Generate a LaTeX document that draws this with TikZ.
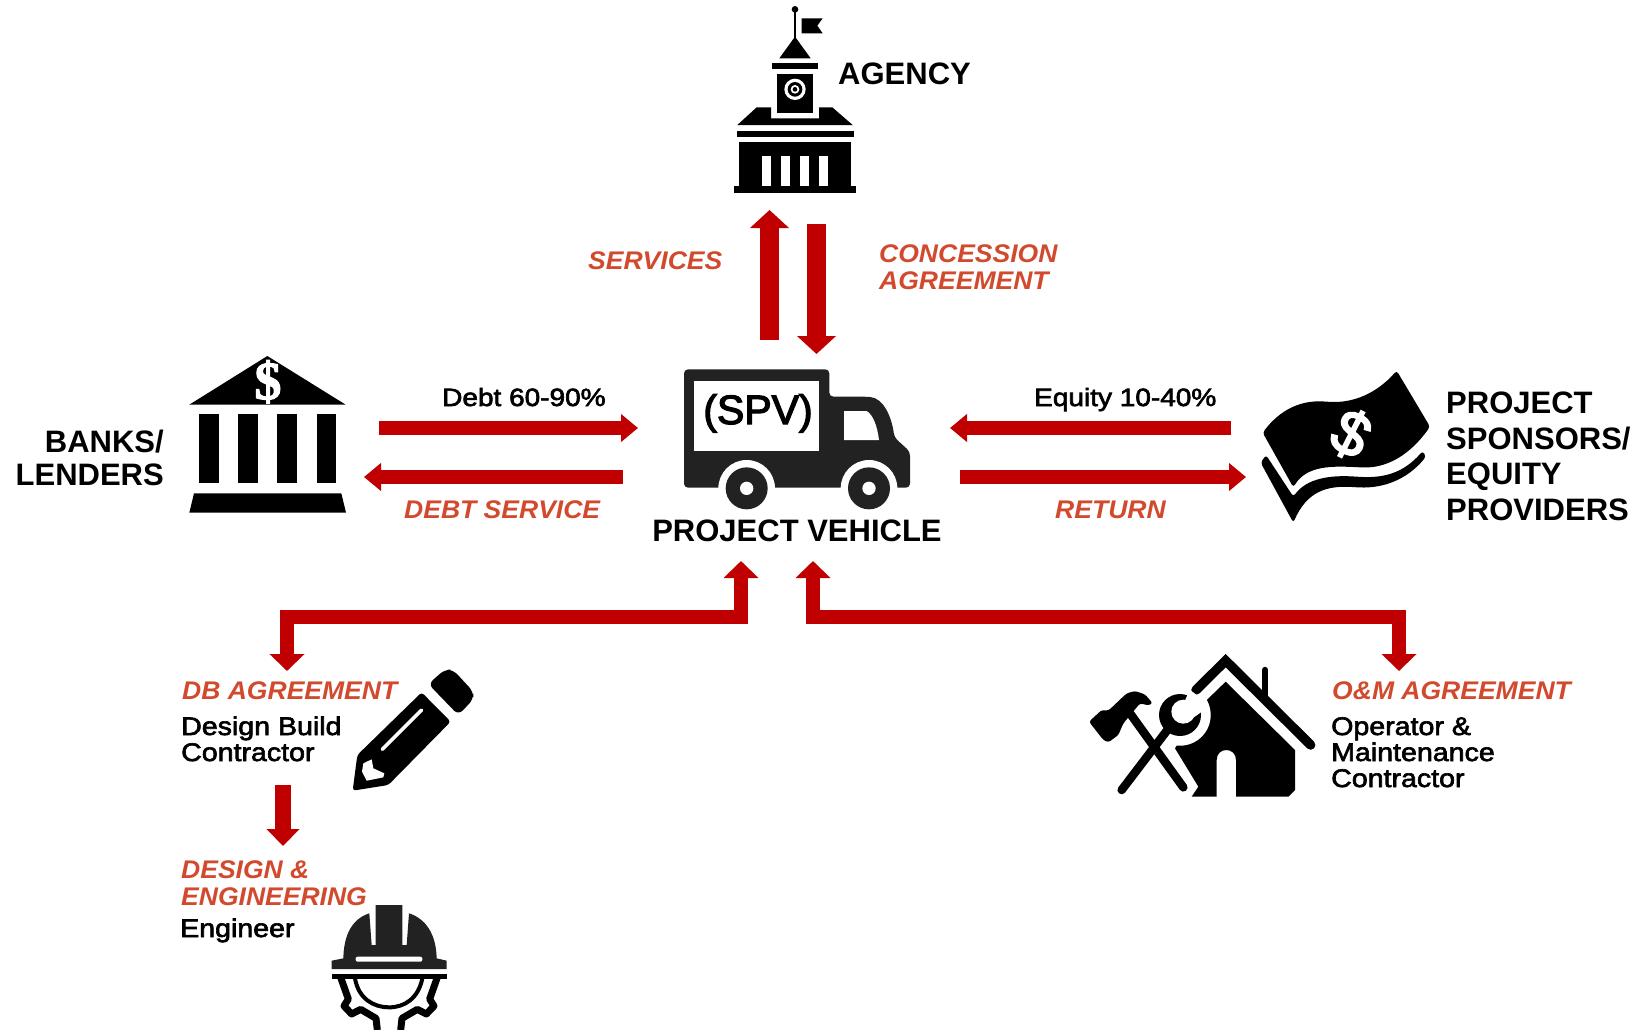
\documentclass[tikz,border=0pt]{standalone}
\usepackage{fontspec}
\setmainfont{Liberation Sans}
\newfontfamily\medfont[FakeBold=2.5,FakeStretch=1.12]{Liberation Sans}
\newfontfamily\spvfont[FakeBold=3]{Liberation Sans}
\newfontfamily\relfont[FakeStretch=1.04]{Liberation Sans}
\newfontfamily\serfont[FakeBold=2]{Liberation Serif}
\usetikzlibrary{arrows.meta}
\definecolor{arrowred}{HTML}{C00000}
\definecolor{labelred}{HTML}{D24A2E}
\definecolor{truckblack}{HTML}{222222}
\tikzset{
  flow/.style={draw=arrowred,line width=14pt,-{Triangle[length=17pt,width=27pt]}},
  flowv/.style={draw=arrowred,line width=19pt,-{Triangle[length=18pt,width=38pt]}},
  flowb/.style={draw=arrowred,line width=14pt,{Triangle[length=17pt,width=34pt]}-{Triangle[length=17pt,width=34pt]}},
  ent/.style={anchor=base west,inner sep=0pt,align=left,font=\bfseries\fontsize{31}{35.5}\selectfont},
  rel/.style={anchor=base west,inner sep=0pt,align=left,text=labelred,font=\relfont\bfseries\itshape\fontsize{25.5}{27}\selectfont},
  amt/.style={anchor=base west,inner sep=0pt,align=left,font=\medfont\fontsize{25.5}{26}\selectfont},
}
\begin{document}
\begin{tikzpicture}[x=1pt,y=-1pt]
\useasboundingbox (0,0) rectangle (1637,1029);
% ---- connector end points
\coordinate (svcA) at (769.5,340); \coordinate (svcB) at (769.5,210);
\coordinate (conA) at (816.5,224); \coordinate (conB) at (816.5,354);
\coordinate (debtA) at (379,428);  \coordinate (debtB) at (638,428);
\coordinate (dsvA) at (623,477);   \coordinate (dsvB) at (364,477);
\coordinate (eqA) at (1231,428);   \coordinate (eqB) at (950,428);
\coordinate (retA) at (960,477);   \coordinate (retB) at (1246,477);
\coordinate (dbA) at (741,561);    \coordinate (dbB) at (741,617);
\coordinate (dbC) at (287,617);    \coordinate (dbD) at (287,671);
\coordinate (omA) at (813,561);    \coordinate (omB) at (813,617);
\coordinate (omC) at (1399,617);   \coordinate (omD) at (1399,671);
\coordinate (engA) at (283,785);   \coordinate (engB) at (283,846);
% ---- connectors
\draw[flowv] (svcA) -- (svcB);
\draw[flowv] (conA) -- (conB);
\draw[flow] (debtA) -- (debtB);
\draw[flow] (dsvA) -- (dsvB);
\draw[flow] (eqA) -- (eqB);
\draw[flow] (retA) -- (retB);
\draw[flowb] (dbA) -- (dbB) -- (dbC) -- (dbD);
\draw[flowb] (omA) -- (omB) -- (omC) -- (omD);
\draw[draw=arrowred,line width=16pt,-{Triangle[length=17pt,width=32pt]}] (engA) -- (engB);
% ---- agency icon
\begin{scope}[shift={(700,0)},scale=1/3]
  \fill (285,28) circle (10);
  \draw[line width=2pt] (285,28) -- (285,115);
  \fill (305,55) -- (368,55) -- (352,77) -- (368,100) -- (305,100) -- cycle;
  \fill (285,110) -- (332,175) -- (238,175) -- cycle;
  \fill (217,190) rectangle (353,208);
  \fill (230,223) rectangle (340,340);
  \fill[white] (285,268) circle (32);
  \fill (285,268) circle (22);
  \fill[white] (285,268) circle (13);
  \fill (285,268) circle (7);
  \fill (112,375) -- (170,322) -- (213,322) -- (213,355) -- (357,355) -- (357,322) -- (397,322) -- (458,375) -- cycle;
  \fill (110,392) rectangle (461,410);
  \fill (118,425) rectangle (452,560);
  \fill (103,558) rectangle (467,578);
  \fill[white] (185,468) rectangle (212,558);
  \fill[white] (243,468) rectangle (270,558);
  \fill[white] (300,468) rectangle (328,558);
  \fill[white] (358,468) rectangle (385,558);
\end{scope}
% ---- bank icon
\begin{scope}[shift={(170,340)},scale=1/3]
  \fill (292,48) -- (527,194) -- (58,194) -- cycle;
  \fill (87,223) rectangle (146,430);
  \fill (204,223) rectangle (264,430);
  \fill (322,223) rectangle (381,430);
  \fill (440,223) rectangle (498,430);
  \fill (72,460) -- (514,460) -- (528,518) -- (58,518) -- cycle;
  \node[text=white,inner sep=0pt,font=\serfont\bfseries\fontsize{54}{54}\selectfont] (bankdollar) at (294,125) {\$};
\end{scope}
% ---- truck icon
\begin{scope}[shift={(660,350)},scale=1/3]
  \fill[truckblack,rounded corners=4pt]
    (72,58) -- (508,58) -- (508,140) -- (620,140)
    .. controls (670,145) and (695,200) .. (703,262)
    -- (750,305) -- (750,413) -- (177,413) -- (72,413) -- cycle;
  \fill[white] (260,415) circle (85);
  \fill[white] (627,415) circle (85);
  \fill[truckblack] (260,415) circle (63);
  \fill[truckblack] (627,415) circle (63);
  \fill[white] (260,415) circle (20);
  \fill[white] (627,415) circle (20);
  \fill[white] (103,92) rectangle (478,303);
  \fill[white] (552,183) -- (620,183) .. controls (640,195) and (652,230) .. (657,270) -- (552,270) -- cycle;
\end{scope}
\node[anchor=base,inner sep=0pt,font=\spvfont\fontsize{41}{41}\selectfont] (spv) at (758,424) {(SPV)};
% ---- money icon
\begin{scope}[shift={(1240,350)},scale=1/3]
  \fill[rounded corners=3pt] (68,248) .. controls (120,180) and (180,150) .. (260,155)
    .. controls (340,160) and (410,130) .. (470,62)
    -- (570,230) .. controls (510,315) and (440,355) .. (360,352)
    .. controls (280,348) and (200,345) .. (160,412) -- cycle;
  \fill[rounded corners=3pt] (78,315) -- (160,440) .. controls (200,385) and (270,375) .. (350,380)
    .. controls (430,385) and (490,370) .. (548,303)
    -- (558,320) .. controls (500,390) and (430,415) .. (350,412)
    .. controls (260,405) and (200,425) .. (160,518) -- (62,338) -- cycle;
  \node[text=white,inner sep=0pt,rotate=-27,font=\spvfont\fontsize{62}{62}\selectfont] (billdollar) at (333,252) {\$};
\end{scope}
% ---- house
\begin{scope}[shift={(1070,640)},scale=1/3]
  \fill (467,125) -- (675,330) -- (675,450) -- (655,470) -- (498,470) -- (498,360)
    .. controls (498,320) and (440,320) .. (440,360) -- (440,470) -- (365,470) -- (385,440) -- (315,325) -- (400,190) -- cycle;
  \fill[white] (330,225) circle (92);
  \draw[line width=9.5pt,line cap=round,line join=miter] (378,150) -- (467,62) -- (722,315);
  \draw[line width=6.5pt,line cap=round] (585,90) -- (585,170);
\end{scope}
% ---- hammer and wrench
\begin{scope}[shift={(1080,680)},scale=1/3]
  \fill (300,105) circle (63);
  \fill[white] (310,95) circle (36);
  \fill[white] (305,85) -- (322,45) -- (330,30) -- (385,70) -- (367,94) -- (330,120) -- cycle;
  \draw[line width=8.5pt,line cap=round] (262,150) -- (125,330);
  \draw[line width=8.5pt,line cap=round] (150,100) -- (310,322);
  \fill[rounded corners=2.5pt] (27,125) -- (65,90) -- (85,92) -- (140,40) -- (165,33) -- (195,43) -- (218,70) -- (205,76) -- (180,70) -- (155,100) -- (130,130) -- (115,165) -- (85,187) -- (70,180) -- cycle;
\end{scope}
% ---- pencil icon
\begin{scope}[shift={(330,660)},scale=1/3]
  \fill[rounded corners=6pt] (295,72) -- (345,28) -- (370,30) -- (430,95) -- (430,118) -- (385,165) -- cycle;
  \fill[rounded corners=3pt] (275,97) -- (362,185) -- (175,375) -- (68,392) -- (82,285) -- cycle;
  \draw[white,line width=3.5pt,line cap=round] (157,268) -- (275,150);
  \fill[white] (100,310) -- (125,298) -- (130,325) -- (163,340) -- (160,352) -- (110,362) -- (96,335) -- cycle;
\end{scope}
% ---- helmet and gear icon
\begin{scope}[shift={(310,890)},scale=1/3]
  \fill[truckblack] (100,210) .. controls (100,130) and (130,85) .. (178,70) -- (185,165) -- (197,165) -- (197,45) -- (277,45) -- (277,165) -- (290,165) -- (297,70) .. controls (345,85) and (380,130) .. (380,210) -- cycle;
  \fill[truckblack] (65,212) -- (100,205) -- (380,205) -- (410,212) -- (410,237) -- (65,237) -- cycle;
  \fill[white,rounded corners=2pt] (137,200) rectangle (337,215);
  \fill[black] (65,252) rectangle (410,266);
  \draw[black,line width=7pt,line join=round] (92,262) -- (115,327) -- (102,348) -- (125,372) -- (152,358) -- (198,385) -- (202,420);
  \draw[black,line width=7pt,line join=round] (382,262) -- (359,327) -- (372,348) -- (349,372) -- (322,358) -- (276,385) -- (272,420);
  \draw[black,line width=4pt] (135,265) .. controls (145,325) and (190,352) .. (237,352) .. controls (284,352) and (325,325) .. (337,265);
\end{scope}
% ---- labels
\node[ent] (agency) at (838,84) {AGENCY};
\node[rel] (services) at (588,269) {SERVICES};
\node[rel] (concession) at (879,289) {CONCESSION\\AGREEMENT};
\node[amt,font=\medfont\fontsize{25}{26}\selectfont] (debt) at (442,406) {Debt 60-90\%};
\node[amt,font=\medfont\fontsize{25}{26}\selectfont] (equity) at (1034,406) {Equity 10-40\%};
\node[rel] (debtservice) at (404,518) {DEBT SERVICE};
\node[rel] (return) at (1055,518) {RETURN};
\node[ent,anchor=base] (vehicle) at (797,541) {PROJECT VEHICLE};
\node[ent,anchor=base east,align=right,font=\bfseries\fontsize{31}{33}\selectfont] (banks) at (164,485) {BANKS/\\LENDERS};
\node[ent] (sponsors) at (1446,520) {PROJECT\\SPONSORS/\\EQUITY\\PROVIDERS};
\node[rel] (dbagr) at (182,699) {DB AGREEMENT};
\node[amt] (dbc) at (181,761) {Design Build\\Contractor};
\node[rel] (omagr) at (1332,699) {O\&M AGREEMENT};
\node[amt] (omc) at (1331,787) {Operator \&\\Maintenance\\Contractor};
\node[rel] (design) at (181,905) {DESIGN \&\\ENGINEERING};
\node[amt] (eng) at (180,937) {Engineer};
\end{tikzpicture}
\end{document}
